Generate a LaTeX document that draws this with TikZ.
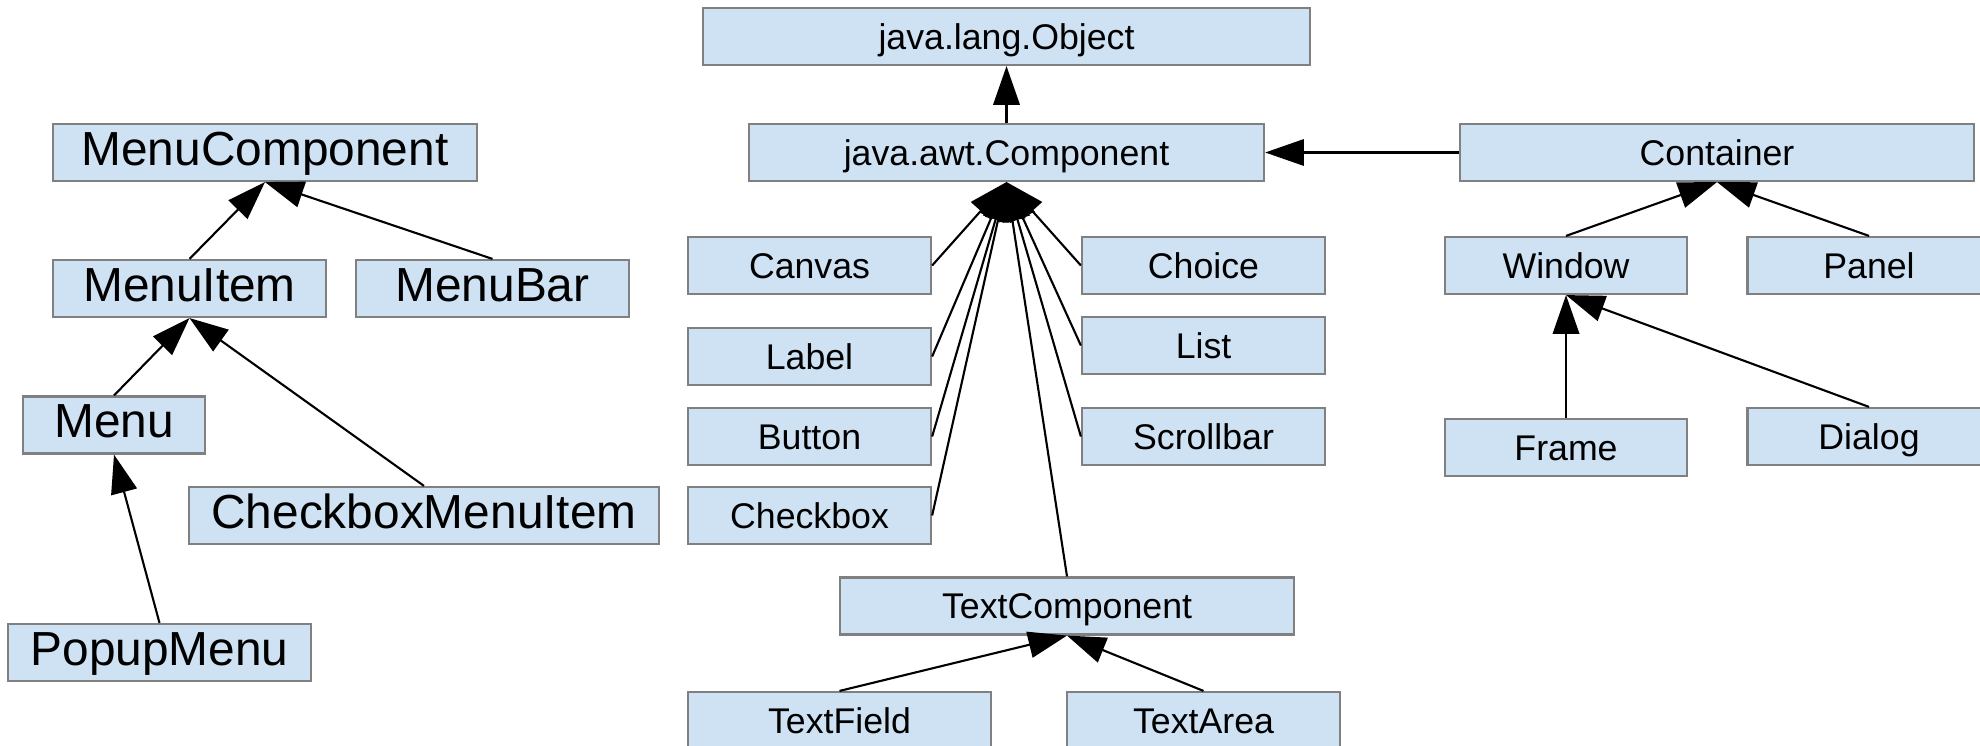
\documentclass[tikz,border=0pt]{standalone}
\usepackage{fontspec}
\setmainfont{Liberation Sans}
\usepackage{tikz}
\usetikzlibrary{arrows.meta,positioning}
\definecolor{boxblue}{HTML}{CFE2F3}
\tikzstyle{awtclass}=[draw=black!50, line width=0.6pt, fill=boxblue,
minimum height=0.57cm, inner sep=0pt, text height=0.92em, text depth=0.2em,
font=\fontsize{10.15}{12}\selectfont]
\tikzstyle{menuclass}=[awtclass, font=\fontsize{13.6}{16}\selectfont]
\tikzstyle{line}=[draw, line width=0.6pt, -{Triangle[length=11pt,width=7.5pt]}]
\newcommand{\awtcls}[3]{node (p#1)[awtclass, minimum width=#2]{#3}}
\newcommand{\menucls}[3]{node (p#1)[menuclass, minimum width=#2]{#3}}

\begin{document}
\begin{tikzpicture}[x=0.01cm, y=-0.01cm]
	\useasboundingbox (0,0) rectangle (1980,746);

	% Menu classes
	\path (265,152.5) \menucls{MenuComponent}{4.24cm}{MenuComponent};
	\path (189.5,288.5) \menucls{MenuItem}{2.73cm}{MenuItem};
	\path (492.5,288.5) \menucls{MenuBar}{2.73cm}{MenuBar};
	\path (114,425) \menucls{Menu}{1.82cm}{Menu};
	\path (424,515.5) \menucls{CheckboxMenuItem}{4.70cm}{CheckboxMenuItem};
	\path (159.5,652.5) \menucls{PopupMenu}{3.03cm}{PopupMenu};

	% Component classes
	\path (1006.5,36.5) \awtcls{Object}{6.07cm}{java.lang.Object};
	\path (1006.5,152.5) \awtcls{Component}{5.15cm}{java.awt.Component};
	\path (809.5,265.5) \awtcls{Canvas}{2.43cm}{Canvas};
	\path (809.5,356.5) \awtcls{Label}{2.43cm}{Label};
	\path (809.5,436.5) \awtcls{Button}{2.43cm}{Button};
	\path (809.5,515.5) \awtcls{Checkbox}{2.43cm}{Checkbox};
	\path (1203.5,265.5) \awtcls{Choice}{2.43cm}{Choice};
	\path (1203.5,345.5) \awtcls{List}{2.43cm}{List};
	\path (1203.5,436.5) \awtcls{Scrollbar}{2.43cm}{Scrollbar};
	\path (1067,606) \awtcls{TextComponent}{4.54cm}{TextComponent};
	\path (839.5,720.5) \awtcls{TextField}{3.03cm}{TextField};
	\path (1203.5,720.5) \awtcls{TextArea}{2.73cm}{TextArea};

	% Container classes
	\path (1717,152.5) \awtcls{Container}{5.14cm}{Container};
	\path (1566,265.5) \awtcls{Window}{2.42cm}{Window};
	\path (1869,265.5) \awtcls{Panel}{2.43cm}{Panel};
	\path (1566,447.5) \awtcls{Frame}{2.42cm}{Frame};
	\path (1869,436.5) \awtcls{Dialog}{2.43cm}{Dialog};

	% Draw inheritance arrows
	\path [line] (pMenuItem.north) -- (pMenuComponent.south);
	\path [line] (pMenuBar.north) -- (pMenuComponent.south);
	\path [line] (pMenu.north) -- (pMenuItem.south);
	\path [line] (pCheckboxMenuItem.north) -- (pMenuItem.south);
	\path [line] (pPopupMenu.north) -- (pMenu.south);

	\path [line] (pComponent.north) -- (pObject.south);
	\path [line] (pContainer.west) -- (pComponent.east);
	\path [line] (pCanvas.east) -- (pComponent.south);
	\path [line] (pLabel.east) -- (pComponent.south);
	\path [line] (pButton.east) -- (pComponent.south);
	\path [line] (pCheckbox.east) -- (pComponent.south);
	\path [line] (pChoice.west) -- (pComponent.south);
	\path [line] (pList.west) -- (pComponent.south);
	\path [line] (pScrollbar.west) -- (pComponent.south);
	\path [line] (pTextComponent.north) -- (pComponent.south);
	\path [line] (pTextField.north) -- (pTextComponent.south);
	\path [line] (pTextArea.north) -- (pTextComponent.south);

	\path [line] (pWindow.north) -- (pContainer.south);
	\path [line] (pPanel.north) -- (pContainer.south);
	\path [line] (pFrame.north) -- (pWindow.south);
	\path [line] (pDialog.north) -- (pWindow.south);
\end{tikzpicture}
\end{document}
